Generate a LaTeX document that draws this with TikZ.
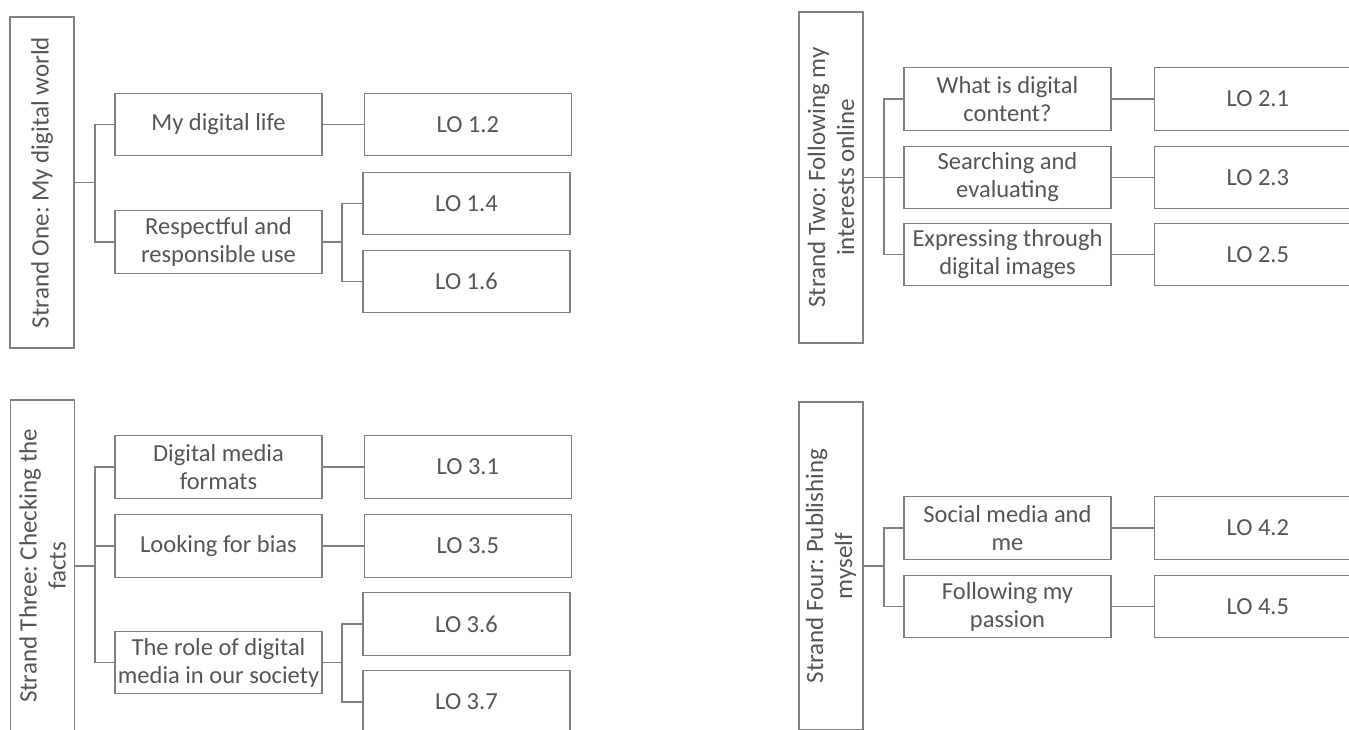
\documentclass[tikz,border=0pt]{standalone}
\usepackage{fontspec}
\setmainfont{Carlito}
\frenchspacing
\usetikzlibrary{positioning}
\definecolor{boxline}{HTML}{808080}
\definecolor{boxtext}{HTML}{555555}
\tikzset{
    strand/.style ={
        shape=rectangle,
        rotate=90,
        draw=boxline,
        line width=1.3pt,
        text=boxtext,
        align=center,
        inner sep=0pt,
        minimum height=64pt,
        font=\fontsize{25}{29}\selectfont
    },
    topic/.style ={
        shape=rectangle,
        draw=boxline,
        line width=1.3pt,
        text=boxtext,
        align=center,
        inner sep=0pt,
        minimum width=207pt,
        minimum height=62.5pt,
        font=\fontsize{24.5}{28}\selectfont
    },
    outcome/.style ={
        topic
    },
    link/.style ={
        draw=boxline,
        line width=1.3pt
    }
}

\begin{document}
\begin{tikzpicture}[x=1pt,y=-1pt]
    \path[use as bounding box, clip] (0,0) rectangle (1349,729);
    % strand one
    \node[strand, minimum width=331pt] (s1) at (42,182.5) {Strand One: My digital world};
    \node[topic] (t11) at (218.5,124.5) {My digital life};
    \node[topic] (t12) at (218.5,242) {Respectful and\\responsible use};
    \node[outcome, right=41pt of t11] (lo12) {LO 1.2};
    \node[outcome] (lo14) at (466.5,203.5) {LO 1.4};
    \node[outcome] (lo16) at (466.5,281.5) {LO 1.6};
    \coordinate (j1) at (95,182.5);
    \coordinate (k12) at (342,242);
    \draw[link] (s1) -- (j1) |- (t11);
    \draw[link] (j1) |- (t12);
    \draw[link] (t11) -- (lo12);
    \draw[link] (t12) -- (k12) |- (lo14);
    \draw[link] (k12) |- (lo16);
    % strand two
    \node[strand, minimum width=331pt] (s2) at (831,177.5) {Strand Two: Following my\\interests online};
    \node[topic] (t21) at (1007.5,99) {What is digital\\content?};
    \node[topic] (t22) at (1007.5,177.5) {Searching and\\evaluating};
    \node[topic] (t23) at (1007.5,254.5) {Expressing through\\digital images};
    \node[outcome, right=42pt of t21] (lo21) {LO 2.1};
    \node[outcome, right=42pt of t22] (lo23) {LO 2.3};
    \node[outcome, right=42pt of t23] (lo25) {LO 2.5};
    \coordinate (j2) at (884,177.5);
    \draw[link] (s2) -- (j2) |- (t21);
    \draw[link] (j2) -- (t22);
    \draw[link] (j2) |- (t23);
    \draw[link] (t21) -- (lo21);
    \draw[link] (t22) -- (lo23);
    \draw[link] (t23) -- (lo25);
    % strand three
    \node[strand, minimum width=332pt] (s3) at (42.5,566) {Strand Three: Checking the\\facts};
    \node[topic] (t31) at (218.5,467) {Digital media\\formats};
    \node[topic] (t32) at (218.5,546) {Looking for bias};
    \node[topic] (t33) at (218.5,662.5) {The role of digital\\media in our society};
    \node[outcome, right=41pt of t31] (lo31) {LO 3.1};
    \node[outcome, right=41pt of t32] (lo35) {LO 3.5};
    \node[outcome] (lo36) at (466.5,624) {LO 3.6};
    \node[outcome] (lo37) at (466.5,702) {LO 3.7};
    \coordinate (j3) at (95,566);
    \coordinate (k33) at (342,662.5);
    \draw[link] (s3) -- (j3) |- (t31);
    \draw[link] (j3) |- (t32);
    \draw[link] (j3) |- (t33);
    \draw[link] (t31) -- (lo31);
    \draw[link] (t32) -- (lo35);
    \draw[link] (t33) -- (k33) |- (lo36);
    \draw[link] (k33) |- (lo37);
    % strand four
    \node[strand, minimum width=328pt] (s4) at (831,566) {Strand Four: Publishing\\myself};
    \node[topic] (t41) at (1007.5,528) {Social media and\\me};
    \node[topic] (t42) at (1007.5,606.5) {Following my\\passion};
    \node[outcome, right=42pt of t41] (lo42) {LO 4.2};
    \node[outcome, right=42pt of t42] (lo45) {LO 4.5};
    \coordinate (j4) at (884,566);
    \draw[link] (s4) -- (j4) |- (t41);
    \draw[link] (j4) |- (t42);
    \draw[link] (t41) -- (lo42);
    \draw[link] (t42) -- (lo45);
\end{tikzpicture}
\end{document}
